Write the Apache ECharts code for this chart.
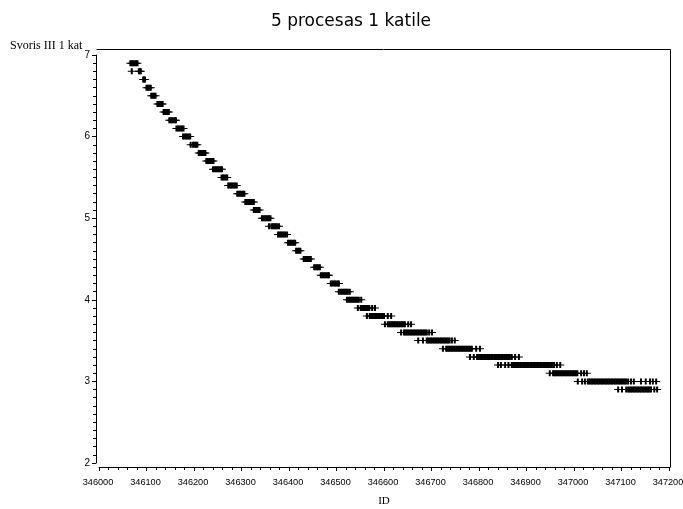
<!DOCTYPE html>
<html>
<head>
<meta charset="utf-8">
<script src="https://cdn.jsdelivr.net/npm/echarts@6/dist/echarts.min.js"></script>
<style>
  html, body { margin: 0; padding: 0; background: #fff; }
  #chart { width: 683px; height: 509px; }
</style>
</head>
<body>
<div id="chart"></div>
<script>
// weight levels (y) and the IDs plotted on each level
const yLevels = [6.9, 6.8, 6.7, 6.6, 6.5, 6.4, 6.3, 6.2, 6.1, 6.0,
                 5.9, 5.8, 5.7, 5.6, 5.5, 5.4, 5.3, 5.2, 5.1, 5.0,
                 4.9, 4.8, 4.7, 4.6, 4.5, 4.4, 4.3, 4.2, 4.1, 4.0,
                 3.9, 3.8, 3.7, 3.6, 3.5, 3.4, 3.3, 3.2, 3.1, 3.0, 2.9];

const idsByLevel = [
  [346066, 346069, 346072, 346075, 346078, 346081],
  [346069, 346084, 346086, 346088],
  [346093, 346095, 346097],
  [346100, 346103, 346106, 346109],
  [346110, 346113, 346116, 346119],
  [346123, 346126, 346129, 346132, 346134],
  [346136, 346139, 346142, 346145, 346147],
  [346148, 346151, 346154, 346157, 346160, 346162],
  [346163, 346166, 346169, 346172, 346175, 346178],
  [346177, 346180, 346183, 346186, 346189, 346192],
  [346193, 346198, 346201, 346204, 346207],
  [346210, 346213, 346216, 346219, 346222, 346224],
  [346226, 346229, 346232, 346235, 346238, 346241],
  [346240, 346244, 346247, 346250, 346253, 346256, 346259],
  [346258, 346261, 346264, 346267, 346270],
  [346272, 346275, 346278, 346281, 346284, 346287, 346290],
  [346291, 346294, 346297, 346300, 346303, 346306],
  [346308, 346311, 346314, 346317, 346320, 346323, 346326],
  [346326, 346329, 346332, 346335, 346338],
  [346343, 346346, 346349, 346352, 346355, 346358, 346361],
  [346358, 346363, 346366, 346369, 346372, 346375, 346379],
  [346377, 346380, 346383, 346386, 346389, 346392, 346396],
  [346398, 346401, 346404, 346407, 346410, 346413],
  [346415, 346418, 346421, 346424],
  [346431, 346434, 346437, 346440, 346443, 346446],
  [346453, 346456, 346459, 346462, 346465],
  [346467, 346470, 346473, 346476, 346479, 346482, 346484],
  [346488, 346491, 346494, 346497, 346500, 346503, 346505],
  [346505, 346509, 346512, 346515, 346518, 346521, 346524, 346528],
  [346522, 346526, 346529, 346532, 346535, 346538, 346541, 346544, 346547, 346552],
  [346545, 346551, 346554, 346557, 346560, 346563, 346566, 346569, 346575, 346581],
  [346564, 346570, 346573, 346576, 346579, 346582, 346585, 346588, 346591, 346594,
   346597, 346600, 346608, 346615],
  [346602, 346608, 346611, 346614, 346617, 346620, 346623, 346626, 346629, 346632,
   346635, 346638, 346641, 346644, 346651, 346657],
  [346636, 346642, 346645, 346648, 346651, 346654, 346657, 346660, 346663, 346666,
   346669, 346672, 346675, 346678, 346681, 346684, 346687, 346690, 346695, 346701],
  [346672, 346682, 346690, 346693, 346696, 346699, 346702, 346705, 346708, 346711,
   346714, 346717, 346720, 346723, 346726, 346729, 346732, 346735, 346738, 346743, 346749],
  [346724, 346731, 346734, 346737, 346740, 346743, 346746, 346749, 346752, 346755,
   346758, 346761, 346764, 346767, 346770, 346773, 346776, 346779, 346782, 346785,
   346794, 346802],
  [346781, 346789, 346796, 346799, 346802, 346805, 346808, 346811, 346814, 346817,
   346820, 346823, 346826, 346829, 346832, 346835, 346838, 346841, 346844, 346847,
   346850, 346853, 346856, 346859, 346862, 346865, 346869, 346876, 346884],
  [346840, 346846, 346855, 346862, 346869, 346872, 346875, 346878, 346881, 346884,
   346887, 346890, 346893, 346896, 346899, 346902, 346905, 346908, 346911, 346914,
   346917, 346920, 346923, 346926, 346929, 346932, 346935, 346938, 346941, 346944,
   346947, 346950, 346953, 346956, 346958, 346964, 346971],
  [346949, 346956, 346959, 346962, 346965, 346968, 346971, 346974, 346977, 346980,
   346983, 346986, 346989, 346992, 346995, 346998, 347001, 347004, 347007,
   347015, 347021, 347027],
  [347008, 347017, 347023, 347029, 347032, 347035, 347038, 347041, 347044, 347047,
   347050, 347053, 347056, 347059, 347062, 347065, 347068, 347071, 347074, 347077,
   347080, 347083, 347086, 347089, 347092, 347095, 347098, 347101, 347104, 347107,
   347110, 347114, 347120, 347126, 347141, 347151, 347160, 347166, 347173],
  [347093, 347101, 347110, 347114, 347117, 347120, 347123, 347126, 347129, 347132,
   347135, 347138, 347141, 347144, 347147, 347150, 347153, 347156, 347159, 347162,
   347169, 347175]
];

const points = [];
yLevels.forEach((y, i) => {
  idsByLevel[i].forEach(id => points.push([id, y]));
});

const tickFont = '"Liberation Sans", Arial, sans-serif';
const serifFont = '"Liberation Serif", "DejaVu Serif", serif';

const chart = echarts.init(document.getElementById('chart'));
chart.setOption({
  animation: false,
  backgroundColor: '#fff',
  title: {
    text: '5 procesas 1 katile',
    left: 346,
    top: 8,
    textAlign: 'center',
    textStyle: { fontFamily: '"DejaVu Sans", sans-serif', fontSize: 17, fontWeight: 'normal', color: '#000' }
  },
  grid: { left: 99, right: 14, top: 55, bottom: 46, outerBoundsMode: 'none', containLabel: false },
  xAxis: {
    type: 'value',
    min: 346000,
    max: 347200,
    interval: 100,
    offset: 4,
    name: 'ID',
    nameLocation: 'middle',
    nameGap: 29,
    nameTextStyle: { fontFamily: serifFont, fontSize: 11, color: '#000' },
    axisLine: { lineStyle: { color: '#000', width: 1 } },
    axisTick: { length: 4, lineStyle: { color: '#000' } },
    minorTick: { show: true, splitNumber: 5, length: 3, lineStyle: { color: '#000' } },
    axisLabel: {
      margin: 11, fontFamily: tickFont, fontSize: 9.2, color: '#000',
      padding: [0, 2, 0, 0],
      formatter: v => String(v)
    },
    splitLine: { show: false }
  },
  yAxis: {
    type: 'value',
    min: 2,
    max: 7,
    interval: 1,
    offset: 3,
    axisLine: { show: true, lineStyle: { color: '#000', width: 1 } },
    axisTick: { show: true, length: 4, lineStyle: { color: '#000' } },
    minorTick: { show: true, splitNumber: 10, length: 3, lineStyle: { color: '#000' } },
    axisLabel: { margin: 6, fontFamily: tickFont, fontSize: 10, color: '#000' },
    splitLine: { show: false }
  },
  graphic: [
    {
      type: 'polyline',
      shape: { points: [[96.5, 49.5], [670.5, 49.5], [670.5, 467.5]] },
      style: { stroke: '#000', lineWidth: 1, fill: null }
    },
    {
      type: 'text',
      left: 10,
      top: 40,
      style: { text: 'Svoris III 1 kat', font: '12px ' + serifFont, fill: '#000' }
    }
  ],
  series: [{
    type: 'scatter',
    data: points,
    symbol: 'path://M0,2.5H8V3.5H0Z M3,0H5V6H3Z',
    symbolSize: [8, 6],
    itemStyle: { color: '#000', opacity: 1 },
    silent: true
  }]
});
</script>
</body>
</html>
